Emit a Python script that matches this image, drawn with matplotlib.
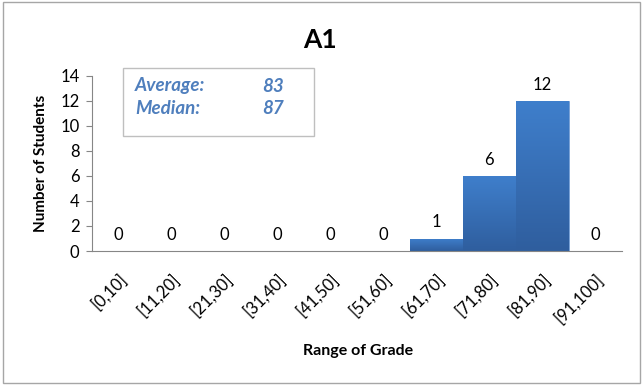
import matplotlib
matplotlib.use("Agg")
import matplotlib.pyplot as plt
import numpy as np
from matplotlib.patches import Rectangle
from matplotlib.colors import LinearSegmentedColormap

categories = ["[0,10]", "[11,20]", "[21,30]", "[31,40]", "[41,50]",
              "[51,60]", "[61,70]", "[71,80]", "[81,90]", "[91,100]"]
counts = [0, 0, 0, 0, 0, 0, 1, 6, 12, 0]
yticks = [0, 2, 4, 6, 8, 10, 12, 14]
average = 83
median = 87

plt.rcParams['font.family'] = ['Lato', 'DejaVu Sans']

fig = plt.figure(figsize=(6.43, 3.85), dpi=100)
fig.patches.append(Rectangle((0.004, 0.006), 0.992, 0.988, transform=fig.transFigure,
                             fill=False, edgecolor='#a6a6a6', linewidth=1.0))
ax = fig.add_axes([0.143, 0.348, 0.824, 0.455])

x = np.arange(len(categories))
bars = ax.bar(x, counts, width=1.0, color='#3a70b8', edgecolor='#6d9bd6', linewidth=0.5, zorder=2)

grad = np.linspace(0, 1, 256).reshape(-1, 1)
cmap = LinearSegmentedColormap.from_list('g', ['#2f5e9e', '#3f7fcc'])
for b in bars:
    if b.get_height() > 0:
        im = ax.imshow(grad, extent=[b.get_x(), b.get_x() + b.get_width(), 0, b.get_height()],
                       origin='lower', cmap=cmap, aspect='auto', zorder=2.5)
        im.set_clip_path(b)

for xi, c in zip(x, counts):
    ax.annotate(str(c), (xi, c), xytext=(0, 6), textcoords='offset points',
                ha='center', va='bottom', fontsize=12, color='black')

ax.set_xlim(-0.5, len(categories) - 0.5)
ax.set_ylim(0, 14)
ax.set_yticks(yticks)
ax.set_xticks(x)
ax.set_xticklabels(categories, rotation=45, ha='right', rotation_mode='anchor', fontsize=12)
ax.tick_params(axis='y', labelsize=12, length=4, color='#868686', direction='out', pad=5)
ax.tick_params(axis='x', length=0, pad=14)
for s in ['top', 'right']:
    ax.spines[s].set_visible(False)
ax.spines['left'].set_color('#868686')
ax.spines['bottom'].set_color('#868686')

ax.set_ylabel('Number of Students', fontsize=11, fontweight='bold')
ax.yaxis.set_label_coords(-0.083, 0.5)
ax.set_xlabel('Range of Grade', fontsize=11.5, fontweight='bold')
ax.xaxis.set_label_coords(0.502, -0.53)
fig.text(0.498, 0.897, 'A1', ha='center', va='center', fontsize=19, fontweight='bold')

fig.patches.append(Rectangle((123 / 643, 1 - 136 / 385), (314 - 123) / 643, (136 - 68) / 385,
                             transform=fig.transFigure, facecolor='white',
                             edgecolor='#bfbfbf', linewidth=1.0, zorder=5))
blue = '#4f7fbd'
kw = dict(color=blue, fontsize=13.5, fontweight='bold', style='italic', va='center', ha='left', zorder=6)
fig.text(135 / 643, 1 - 86 / 385, 'Average:', **kw)
fig.text(262 / 643, 1 - 86 / 385, str(average), **kw)
fig.text(135 / 643, 1 - 108 / 385, 'Median:', **kw)
fig.text(262 / 643, 1 - 108 / 385, str(median), **kw)

fig.savefig('out.png', dpi=100)
